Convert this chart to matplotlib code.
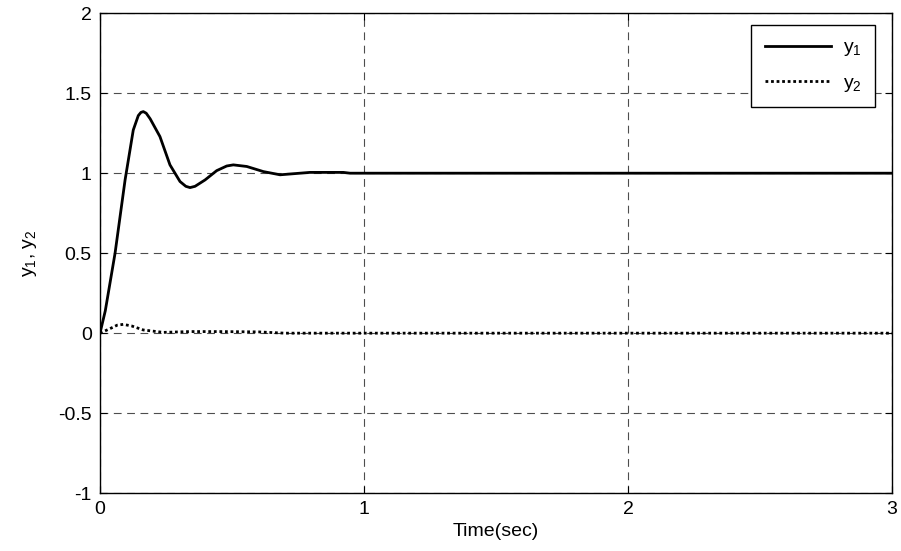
import matplotlib.pyplot as plt

plt.rcParams['font.family'] = ['Liberation Sans', 'DejaVu Sans']
plt.rcParams['mathtext.fontset'] = 'custom'
plt.rcParams['mathtext.rm'] = 'Liberation Sans'
plt.rcParams['mathtext.it'] = 'Liberation Sans'

# output y1 (step response) sampled over time
t1 = [0.0, 0.02, 0.057, 0.095, 0.126, 0.145, 0.155, 0.164, 0.175, 0.19,
      0.227, 0.265, 0.303, 0.325, 0.341, 0.36, 0.398, 0.442, 0.48, 0.505,
      0.556, 0.619, 0.682, 0.72, 0.795, 0.922, 0.947, 1.5, 2.0, 2.5, 3.0]
y1 = [0.0, 0.14, 0.5, 0.958, 1.27, 1.36, 1.38, 1.385, 1.375, 1.34,
      1.229, 1.052, 0.948, 0.918, 0.91, 0.918, 0.958, 1.016, 1.045, 1.052,
      1.042, 1.01, 0.99, 0.995, 1.005, 1.005, 1.0, 1.0, 1.0, 1.0, 1.0]

# output y2 (coupling) sampled over time
t2 = [0.0, 0.04, 0.065, 0.088, 0.12, 0.164, 0.24, 0.3, 0.34, 0.45, 0.6, 0.7,
      1.0, 2.0, 3.0]
y2 = [0.0, 0.03, 0.05, 0.055, 0.045, 0.02, 0.005, 0.008, 0.01, 0.01, 0.008,
      0.0, 0.0, 0.0, 0.0]

xticks = [0, 1, 2, 3]
yticks = [-1, -0.5, 0, 0.5, 1, 1.5, 2]
ytick_labels = ['-1', '-0.5', '0', '0.5', '1', '1.5', '2']

fig = plt.figure(figsize=(9.01, 5.51), dpi=100)
ax = fig.add_axes([0.111, 0.105, 0.879, 0.871])

ax.plot(t1, y1, color='k', linewidth=2.0, label='y$_1$')
ax.plot(t2, y2, color='k', linewidth=2.0, linestyle=(0, (1, 1)), label='y$_2$')

ax.set_xlim(0, 3)
ax.set_ylim(-1, 2)
ax.set_xticks(xticks)
ax.set_yticks(yticks)
ax.set_xticklabels([str(v) for v in xticks])
ax.set_yticklabels(ytick_labels)

# matlab style grid and inward ticks on all sides
ax.grid(True, color='#4d4d4d', linestyle=(0, (7, 5)), linewidth=0.8)
ax.tick_params(direction='in', top=True, right=True, length=5,
               labelsize=14, pad=6)
for s in ax.spines.values():
    s.set_linewidth(1.0)

ax.set_xlabel('Time(sec)', fontsize=14, labelpad=3)
ax.set_ylabel('y$_1$, y$_2$', fontsize=14, labelpad=14)

leg = ax.legend(loc='upper right', bbox_to_anchor=(0.9785, 0.975),
                borderaxespad=0, fontsize=14, handlelength=3.4,
                handletextpad=0.6, fancybox=False, framealpha=1,
                edgecolor='k', borderpad=0.7, labelspacing=0.8)
leg.get_frame().set_linewidth(1.0)

fig.savefig('out.png', dpi=100)
